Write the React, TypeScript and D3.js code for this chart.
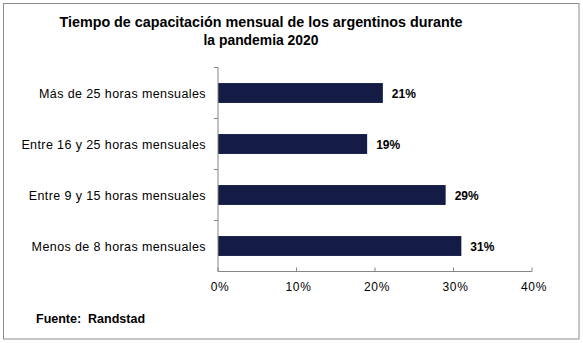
import React from "react";
import * as d3 from "d3";

const categories = [
  "Más de 25 horas mensuales",
  "Entre 16 y 25 horas mensuales",
  "Entre 9 y 15 horas mensuales",
  "Menos de 8 horas mensuales",
];
const values = [21, 19, 29, 31];
const xTicks = [0, 10, 20, 30, 40];
const titleLines = [
  "Tiempo de capacitación mensual de los argentinos durante",
  "la pandemia 2020",
];
const source = "Fuente:\u00a0 Randstad";

const W = 583;
const H = 343;
const font = "Arial, 'Liberation Sans', sans-serif";

export default function App() {
  const x = d3.scaleLinear().domain([0, 40]).range([218, 532]);
  const y = d3
    .scaleBand<string>()
    .domain(categories)
    .range([67.5, 271.5])
    .paddingInner(0.61)
    .paddingOuter(0.305);
  const bandStep = y.step();
  const axisY = 271.5;
  const edges = categories.map((_, i) => 67.5 + bandStep * (i + 1));
  const titleWidths = [403, 115];

  return (
    <svg
      width={W}
      height={H}
      style={{ position: "absolute", left: 0, top: 0, display: "block" }}
    >
      <rect x={0} y={0} width={W} height={H} fill="#fff" />
      <rect
        x={3.5}
        y={3.5}
        width={575.5}
        height={335.5}
        fill="#fff"
        stroke="#8c8c8c"
        strokeWidth={1}
      />
      {titleLines.map((t, i) => (
        <text
          key={i}
          x={261}
          y={26.5 + i * 18.5}
          textAnchor="middle"
          fontFamily={font}
          fontWeight="bold"
          fontSize={15.5}
          textLength={titleWidths[i]}
          lengthAdjust="spacingAndGlyphs"
          fill="#000"
        >
          {t}
        </text>
      ))}
      {categories.map((c, i) => {
        const by = y(c)!;
        const bh = y.bandwidth();
        return (
          <g key={c}>
            <rect
              x={x(0)}
              y={by}
              width={x(values[i]) - x(0)}
              height={bh}
              fill="#141c45"
            />
            <text
              x={x(values[i]) + 9}
              y={by + bh / 2 + 4.5}
              fontFamily={font}
              fontWeight="bold"
              fontSize={12}
              fill="#000"
            >
              {values[i]}%
            </text>
            <text
              x={206}
              y={by + bh / 2 + 4.5}
              textAnchor="end"
              fontFamily={font}
              fontSize={12.5}
              letterSpacing={0.4}
              fill="#000"
            >
              {c}
            </text>
          </g>
        );
      })}
      {/* y axis */}
      <line x1={x(0)} x2={x(0)} y1={67.5} y2={axisY} stroke="#868686" />
      {edges.slice(0, -1).map((e, i) => (
        <line key={i} x1={x(0) - 4} x2={x(0)} y1={e} y2={e} stroke="#868686" />
      ))}
      <line x1={x(0) - 4} x2={x(0)} y1={67.5} y2={67.5} stroke="#868686" />
      {/* x axis */}
      <line x1={x(0)} x2={x(40)} y1={axisY} y2={axisY} stroke="#868686" />
      {xTicks.map((t) => (
        <g key={t}>
          <line
            x1={x(t)}
            x2={x(t)}
            y1={axisY}
            y2={axisY - 4}
            stroke="#868686"
          />
          <text
            x={x(t) + 2}
            y={291}
            textAnchor="middle"
            fontFamily={font}
            fontSize={12}
            letterSpacing={0.6}
            fill="#000"
          >
            {t}%
          </text>
        </g>
      ))}
      <text
        x={36}
        y={323}
        fontFamily={font}
        fontWeight="bold"
        fontSize={12.5}
        fill="#000"
      >
        {source}
      </text>
    </svg>
  );
}
